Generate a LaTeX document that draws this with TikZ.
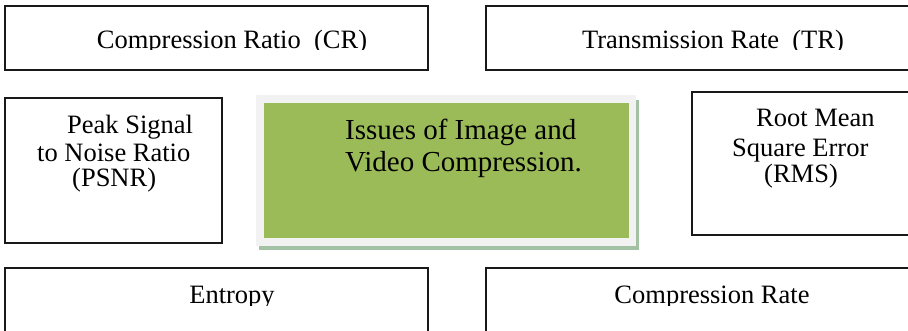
\documentclass[tikz,border=0pt]{standalone}
\usepackage{fontspec}
\setmainfont{Liberation Serif}
\begin{document}
\begin{tikzpicture}[x=1pt,y=-1pt,
  boxline/.style={draw=black!90,line width=1.5pt},
  smalltxt/.style={inner sep=0pt,font=\fontsize{26.5}{30}\selectfont},
  midtxt/.style={inner sep=0pt,font=\fontsize{26.5}{30}\selectfont,anchor=base west},
  bigtxt/.style={inner sep=0pt,font=\fontsize{29}{34}\selectfont,anchor=base west}]
\useasboundingbox (0,0) rectangle (908,331);
\clip (0,0) rectangle (908,331);
% top boxes
\draw[boxline] (5,6) rectangle (428,70);
\draw[boxline] (486,6) rectangle (912,70);
\begin{scope}
  \clip (0,0) rectangle (908,50);
  \node[smalltxt,anchor=base] (cr) at (232,49) {Compression Ratio\ \ (CR)};
  \node[smalltxt,anchor=base] (tr) at (713,49) {Transmission Rate\ \ (TR)};
\end{scope}
% PSNR box
\draw[boxline] (5,98) rectangle (222,243);
\node[midtxt] (p1) at (67,134) {Peak Signal};
\node[midtxt] (p2) at (37,162) {to Noise Ratio};
\node[midtxt] (p3) at (72,187) {(PSNR)};
% RMS box
\draw[boxline] (692,92) rectangle (912,235);
\node[midtxt] (r1) at (756,127) {Root Mean};
\node[midtxt] (r2) at (732,157) {Square Error};
\node[midtxt] (r3) at (764,183) {(RMS)};
% central green box
\fill[green!20!gray!60] (259,246) rectangle (639,250);
\fill[green!20!gray!60] (636,100) rectangle (639,250);
\fill[gray!10] (256,95) rectangle (636,246);
\fill[fill={rgb,255:red,155;green,187;blue,89}] (264,103) rectangle (629,238);
\node[bigtxt] (g1) at (345,140) {Issues of Image and};
\node[bigtxt] (g2) at (345,172) {Video Compression.};
% bottom boxes
\draw[boxline] (5,268) rectangle (428,340);
\draw[boxline] (486,268) rectangle (912,340);
\begin{scope}
  \clip (0,250) rectangle (908,305);
  \node[smalltxt,anchor=base] (en) at (232,304) {Entropy};
  \node[smalltxt,anchor=base] (crate) at (712,304) {Compression Rate};
\end{scope}
\end{tikzpicture}
\end{document}
